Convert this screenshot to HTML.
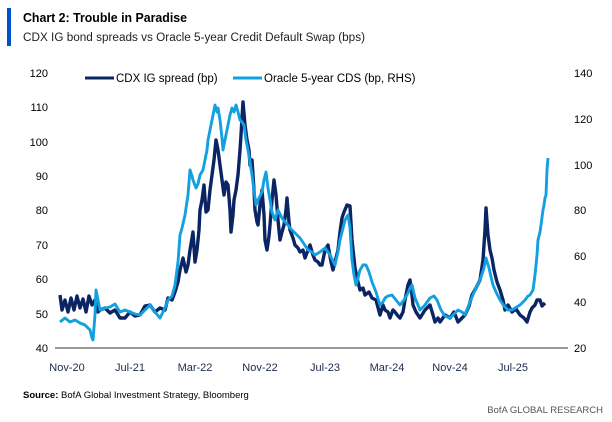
<!DOCTYPE html>
<html><head><meta charset="utf-8"><style>
body{margin:0;background:#fff;width:612px;height:417px;overflow:hidden;font-family:"Liberation Sans",sans-serif}
</style></head><body>
<svg width="612" height="417" xmlns="http://www.w3.org/2000/svg" font-family="Liberation Sans, sans-serif">
<rect x="7" y="8" width="4" height="38" fill="#0052cc"/>
<text x="23" y="22" font-size="13" font-weight="bold" fill="#000" textLength="164" lengthAdjust="spacingAndGlyphs">Chart 2: Trouble in Paradise</text>
<text x="23" y="41" font-size="11.5" fill="#222" textLength="342" lengthAdjust="spacingAndGlyphs">CDX IG bond spreads vs Oracle 5-year Credit Default Swap (bps)</text>
<g font-size="11" fill="#000">
<text x="48" y="77" text-anchor="end">120</text>
<text x="48" y="111" text-anchor="end">110</text>
<text x="48" y="146" text-anchor="end">100</text>
<text x="48" y="180" text-anchor="end">90</text>
<text x="48" y="214" text-anchor="end">80</text>
<text x="48" y="249" text-anchor="end">70</text>
<text x="48" y="283" text-anchor="end">60</text>
<text x="48" y="318" text-anchor="end">50</text>
<text x="48" y="352" text-anchor="end">40</text>
<text x="574" y="77">140</text>
<text x="574" y="123">120</text>
<text x="574" y="169">100</text>
<text x="574" y="214">80</text>
<text x="574" y="260">60</text>
<text x="574" y="306">40</text>
<text x="574" y="352">20</text>
</g>
<g font-size="11" fill="#1a2a4a" text-anchor="middle">
<text x="67" y="371">Nov-20</text><text x="130" y="371">Jul-21</text><text x="195" y="371">Mar-22</text><text x="260" y="371">Nov-22</text><text x="325" y="371">Jul-23</text><text x="387" y="371">Mar-24</text><text x="450" y="371">Nov-24</text><text x="513" y="371">Jul-25</text>
</g>
<line x1="55" y1="348" x2="568" y2="348" stroke="#333" stroke-width="1"/>
<line x1="85" y1="78" x2="114" y2="78" stroke="#0b2464" stroke-width="3"/>
<text x="116" y="82" font-size="11.5" fill="#000">CDX IG spread (bp)</text>
<line x1="233" y1="78" x2="262" y2="78" stroke="#13a0e0" stroke-width="3"/>
<text x="264" y="82" font-size="11.5" fill="#000">Oracle 5-year CDS (bp, RHS)</text>
<polyline fill="none" stroke="#0b2464" stroke-width="3.4" stroke-linejoin="round" points="60,295 62,310 65,300 68,312 71,298 74,310 77,296 80,308 83,299 86,312 89,296 92,305 95,300 98,312 100,310 105,308 110,313 115,310 120,318 125,318 130,312 135,316 140,315 145,306 150,305 155,312 160,308 165,310 168,298 172,300 175,292 178,282 180,270 183,258 186,272 188,265 190,250 193,232 195,262 197,250 199,230 200,210 202,200 204,185 206,212 208,210 210,190 212,175 214,160 216,140 218,150 220,165 222,180 224,195 226,182 228,185 230,210 231,232 233,215 234,200 236,190 238,175 240,150 241,135 242,118 243,102 245,125 247,140 249,150 250,165 252,160 254,190 255,210 257,222 258,225 260,205 262,190 264,215 265,240 267,250 269,236 270,225 272,200 274,180 276,195 278,220 280,240 282,232 284,225 286,210 287,198 289,222 290,230 293,238 295,245 298,248 300,252 303,250 305,258 308,250 310,245 313,255 315,260 318,262 320,265 322,265 325,250 328,245 331,262 333,270 336,258 338,250 340,232 342,218 344,212 347,205 350,206 352,240 355,268 358,282 360,290 363,288 365,295 369,292 372,298 376,300 380,315 383,305 385,310 388,312 390,318 393,310 395,312 398,316 400,318 403,312 405,300 408,285 410,280 412,295 413,305 416,312 420,318 425,310 430,305 433,315 435,322 438,318 440,322 445,315 450,318 454,312 458,322 462,318 465,315 469,306 472,295 476,288 480,280 483,260 485,230 486,208 488,235 490,250 492,258 494,270 497,282 500,290 503,300 505,310 508,305 512,312 516,309 520,315 524,318 527,322 530,312 532,308 535,305 537,300 540,300 542,306 545,303"/>
<polyline fill="none" stroke="#13a0e0" stroke-width="2.9" stroke-linejoin="round" points="60,322 65,318 70,322 75,320 80,323 85,325 90,330 92,338 93,340 95,315 96,290 98,300 100,310 105,308 110,307 115,304 120,312 125,310 130,312 135,314 140,315 145,310 150,305 155,312 160,318 165,308 168,300 172,296 175,285 178,262 180,235 182,228 185,215 188,195 190,170 192,176 193,180 196,188 198,184 200,175 203,170 205,160 207,150 208,140 210,130 212,120 214,110 215,105 217,112 218,108 220,120 222,138 223,150 225,140 228,125 230,115 232,108 234,112 236,105 238,112 240,120 242,122 244,125 246,140 248,150 250,162 252,175 254,190 256,205 258,200 260,196 262,192 264,180 266,172 268,188 270,200 272,212 275,220 278,210 280,214 282,218 285,222 288,225 290,228 292,230 296,234 300,238 304,244 308,250 312,252 315,255 320,252 325,248 330,255 335,265 338,252 340,240 343,228 345,220 348,215 350,228 352,260 354,275 356,285 358,278 360,270 363,265 366,265 369,272 372,282 376,292 380,305 383,302 385,298 388,296 392,295 396,300 400,305 404,300 408,293 410,288 412,285 415,298 418,305 420,310 425,305 430,298 434,296 437,300 441,310 445,316 450,318 454,314 458,310 462,312 465,315 470,302 475,290 480,280 484,268 486,258 489,268 493,285 496,292 500,300 504,306 508,310 512,310 515,308 520,305 525,300 528,296 530,295 533,290 535,275 537,255 538,240 540,232 541,225 543,210 544,205 545,198 546,195 547,170 548,158"/>
<text x="23" y="398" font-size="9.5" fill="#000"><tspan font-weight="bold">Source:</tspan> BofA Global Investment Strategy, Bloomberg</text>
<text x="603" y="413" font-size="9.5" fill="#555" text-anchor="end">BofA GLOBAL RESEARCH</text>
</svg>
</body></html>
